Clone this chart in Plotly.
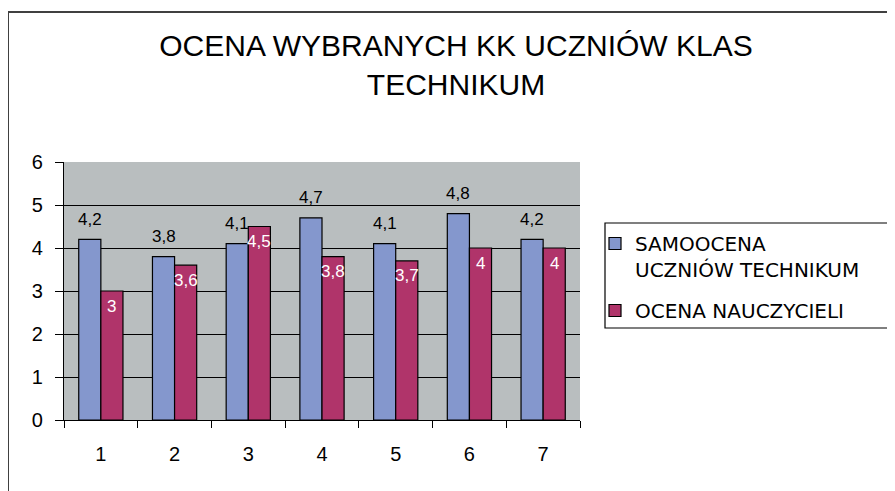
import plotly.graph_objects as go

categories = ["1", "2", "3", "4", "5", "6", "7"]
samoocena = [4.2, 3.8, 4.1, 4.7, 4.1, 4.8, 4.2]
nauczyciel = [3.0, 3.6, 4.5, 3.8, 3.7, 4.0, 4.0]
series_names = ["SAMOOCENA<br>UCZNIÓW TECHNIKUM", "OCENA NAUCZYCIELI"]
title_text = "OCENA WYBRANYCH KK UCZNIÓW KLAS<br>TECHNIKUM"
y_ticks = [0, 1, 2, 3, 4, 5, 6]

BLUE = "rgb(132,151,205)"
RED = "rgb(176,52,106)"
GRAY = "rgb(185,190,191)"
FONT = "Liberation Sans, Arial, sans-serif"

# page body margin shifts the figure by 8px in the screenshot
OFF = 8
W, H = 895, 491
ML = 64 - OFF
MT = 162 - OFF
PLOT_R = 580 - OFF
PLOT_B = 420 - OFF
MR = W - PLOT_R
MB = H - PLOT_B
PW, PH = PLOT_R - ML, PLOT_B - MT


def px_x(p):
    return (p - OFF - ML) / PW


def px_y(p):
    return (PLOT_B - (p - OFF)) / PH


def fmt(v):
    return ("%g" % v).replace(".", ",")


fig = go.Figure()
fig.add_trace(go.Bar(
    x=categories, y=samoocena, name=series_names[0],
    marker=dict(color=BLUE, line=dict(color="black", width=1.2)),
    legendgroup="a",
))
fig.add_trace(go.Bar(
    x=categories, y=nauczyciel, name=series_names[1],
    marker=dict(color=RED, line=dict(color="black", width=1.2)),
    legendgroup="b",
))

annotations = []
for i, v in enumerate(samoocena):
    annotations.append(dict(x=i - 0.15, y=v, xref="x", yref="y", text=fmt(v),
                            showarrow=False, yshift=20,
                            font=dict(family=FONT, size=17, color="black")))
for i, v in enumerate(nauczyciel):
    annotations.append(dict(x=i + 0.15, y=v, xref="x", yref="y", text=fmt(v),
                            showarrow=False, yshift=-15,
                            font=dict(family=FONT, size=17, color="white")))

shapes = [
    # outer chart border (extends beyond the window on the right/bottom)
    dict(type="rect", xref="paper", yref="paper",
         x0=px_x(8), x1=px_x(930), y0=px_y(530), y1=px_y(12),
         line=dict(color="rgb(64,64,64)", width=2), fillcolor="rgba(0,0,0,0)", layer="below"),
    # legend box
    dict(type="rect", xref="paper", yref="paper",
         x0=px_x(605), x1=px_x(930), y0=px_y(328), y1=px_y(223),
         line=dict(color="black", width=1.2), fillcolor="rgba(0,0,0,0)"),
]

fig.update_layout(
    width=W, height=H,
    margin=dict(l=ML, r=MR, t=MT, b=MB, pad=0),
    paper_bgcolor="white",
    plot_bgcolor=GRAY,
    barmode="group",
    bargap=0.4,
    bargroupgap=0,
    title=dict(text=title_text, x=(456 - OFF) / W, xanchor="center", xref="container",
               y=1 - 48 / H, yanchor="top", yref="container",
               font=dict(family=FONT, size=30, color="black")),
    legend=dict(x=px_x(595), xanchor="left", y=px_y(224), yanchor="top",
                font=dict(family="DejaVu Sans, sans-serif", size=20, color="black"),
                bgcolor="rgba(0,0,0,0)", borderwidth=0, valign="top",
                tracegroupgap=12, itemclick=False),
    annotations=annotations,
    shapes=shapes,
    showlegend=True,
)

fig.update_xaxes(
    type="category", tickson="boundaries", ticks="outside", ticklen=7,
    tickcolor="black", tickwidth=1.2,
    showline=True, linecolor="black", linewidth=1.2, mirror=False,
    showgrid=False, zeroline=False,
    tickfont=dict(family=FONT, size=20, color="black"),
    ticklabelstandoff=16,
)
fig.update_yaxes(
    range=[0, 6], tickvals=y_ticks, ticks="outside", ticklen=8,
    tickcolor="black", tickwidth=1.2,
    showline=True, linecolor="black", linewidth=1.2,
    showgrid=True, gridcolor="black", gridwidth=1.2, zeroline=False,
    tickfont=dict(family=FONT, size=20, color="black"),
    ticklabelstandoff=8,
)

fig.write_html("out.html")
